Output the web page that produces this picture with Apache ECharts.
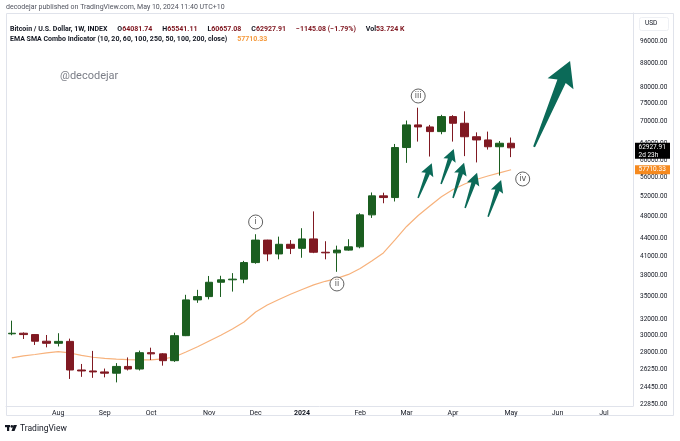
<!DOCTYPE html>
<html><head><meta charset="utf-8">
<script src="https://cdn.jsdelivr.net/npm/echarts@6/dist/echarts.min.js"></script>
<style>html,body{margin:0;padding:0;background:#fff}#c{width:680px;height:441px}</style>
</head><body><div id="c"></div>
<script>
const FONT = 'Roboto, "Noto Sans", sans-serif';
const categories = ['2023-07-10','2023-07-17','2023-07-24','2023-07-31','2023-08-07','2023-08-14','2023-08-21','2023-08-28','2023-09-04','2023-09-11','2023-09-18','2023-09-25','2023-10-02','2023-10-09','2023-10-16','2023-10-23','2023-10-30','2023-11-06','2023-11-13','2023-11-20','2023-11-27','2023-12-04','2023-12-11','2023-12-18','2023-12-25','2024-01-01','2024-01-08','2024-01-15','2024-01-22','2024-01-29','2024-02-05','2024-02-12','2024-02-19','2024-02-26','2024-03-04','2024-03-11','2024-03-18','2024-03-25','2024-04-01','2024-04-08','2024-04-15','2024-04-22','2024-04-29','2024-05-06','2024-05-13','2024-05-20','2024-05-27','2024-06-03','2024-06-10','2024-06-17','2024-06-24','2024-07-01','2024-07-08','2024-07-15'];
const opens  = [30170,30240,30080,29300,29060,29280,26150,26050,25950,25820,26520,26250,28000,27870,27130,29950,34500,34950,36990,37350,37450,39980,43700,41370,42980,42300,43900,41650,41550,42000,42550,48280,52050,51700,63000,68900,68350,67100,71200,69350,65750,64920,63200,64081.74];
const closes = [30240,30080,29300,29060,29280,26150,26050,25950,25820,26520,26250,28000,27870,27130,29950,34500,34950,36990,37350,37450,39980,43700,41370,42980,42300,43900,41650,41550,42000,42550,48280,52050,51700,63000,68900,68350,67100,71200,69350,65750,64920,63200,64080,62927.91];
const lows   = [30000,29560,28870,28600,28700,25240,25450,25350,25400,24900,26100,26100,27200,26600,27000,29900,34100,34570,34900,35650,36850,39800,40200,40500,41350,40750,41500,40500,38550,41900,42300,47700,50550,50900,59300,64500,60800,66400,64500,60900,59400,62500,56400,60657.08];
const highs  = [31780,30340,30120,30030,30240,29600,26780,28200,26300,26870,27480,28230,28560,27950,30300,35200,35900,37920,37950,38350,40250,44720,43750,44300,43700,45800,48950,43500,42750,43850,48600,52750,52700,63900,70100,73750,68900,71700,71600,72700,66900,67100,64650,65541.11];
const ema    = [27430,27640,27800,27970,28110,27970,27700,27500,27370,27290,27240,27210,27210,27320,27530,28080,28670,29330,30000,30760,31620,32890,33810,34560,35270,35950,36600,37130,37570,38150,39060,40240,41530,43720,46120,48160,50000,51880,53380,54550,55530,56300,56980,57710.33];
const priceTicks = [96000,88000,80000,75000,70000,64000,60000,56000,52000,48000,44000,41000,38000,35000,32000,30000,28000,26250,24450,22850];
const monthTickIdx = [4,8,12,17,21,25,30,34,38,43,47,51];
const monthTickText = ['Aug','Sep','Oct','Nov','Dec','2024','Feb','Mar','Apr','May','Jun','Jul'];
const waveText = ['i','ii','iii','iv'];
const waveIdx = [21,28,35,44];
const wavePrice = [46940,36740,77240,55640];
const arrowTailIdx = [44.98,34.99,36.97,38.0,39.04,41.02];
const arrowTailPrice = [63140,51610,54550,51610,49610,47930];
const arrowTipIdx = [48.08,36.17,38.06,38.95,40.07,42.14];
const arrowTipPrice = [88700,59200,62640,59330,57040,55420];
const lastChange = -1145.08, lastChangePct = -1.79, lastVol = '53.724 K', barCountdown = '2d 23h';

const UP = '#1b5e20', DOWN = '#801922', EMA_C = '#f7b27c', ARROW = '#0b6a58';
const candleData = opens.map((o,i)=>[o, closes[i], lows[i], highs[i]]);
const last = opens.length - 1;

const chart = echarts.init(document.getElementById('c'), null, {renderer:'canvas'});
const rn = {fontSize:7, color:'#131722', fontFamily:FONT};
const rr = {fontSize:7, color:DOWN, fontFamily:FONT};
const fmt = v => v.toFixed(2);
chart.setOption({
  animation:false,
  backgroundColor:'#ffffff',
  title:[
    {left:6, top:4, padding:0, text:'decodejar published on TradingView.com, May 10, 2024 11:40 UTC+10',
     textStyle:{fontSize:7, color:'#50535e', fontWeight:'normal', fontFamily:FONT}},
    {left:10, top:20, padding:0,
     text:'{n|Bitcoin / U.S. Dollar, 1W, INDEX}  {n|O}{r|'+fmt(opens[last])+'}  {n|H}{r|'+fmt(highs[last])+'}  {n|L}{r|'+fmt(lows[last])+'}  {n|C}{r|'+fmt(closes[last])+'}  {r|\u2212'+Math.abs(lastChange).toFixed(2)+' (\u2212'+Math.abs(lastChangePct).toFixed(2)+'%)}  {n|Vol}{r|'+lastVol+'}',
     textStyle:{rich:{n:rn, r:rr}}},
    {left:10, top:30, padding:0,
     text:'{n|EMA SMA Combo Indicator (10, 20, 60, 100, 250, 50, 100, 200, close)}  {o|'+fmt(ema[last])+'}',
     textStyle:{rich:{n:rn, o:{fontSize:7, color:'#f59a3c', fontFamily:FONT}}}}
  ],
  grid:{left:6, right:47, top:13, bottom:35},
  xAxis:{type:'category', data:categories, boundaryGap:true,
    axisLine:{show:true, lineStyle:{color:'#e0e3eb'}}, axisTick:{show:false}, splitLine:{show:false},
    axisLabel:{interval:(i)=>monthTickIdx.indexOf(i)>=0, margin:4,
      formatter:(v,i)=>{const j=monthTickIdx.indexOf(i); return j<0?'':(monthTickText[j]==='2024'?'{b|2024}':monthTickText[j]);},
      fontSize:7, color:'#131722', fontFamily:FONT, rich:{b:{fontSize:7, fontWeight:'bold', color:'#131722', fontFamily:FONT}}}},
  yAxis:{type:'log', logBase:10, position:'right', min:22680, max:107230, scale:true,
    axisLine:{show:true, lineStyle:{color:'#e0e3eb'}}, axisTick:{show:false}, splitLine:{show:false},
    axisLabel:{customValues:priceTicks, formatter:v=>Number(v).toFixed(2), fontSize:6.5, color:'#131722', fontFamily:FONT, margin:7}},
  series:[
    {type:'line', name:'EMA', data:ema, showSymbol:false, symbol:'none', z:1,
     lineStyle:{color:EMA_C, width:1.2}},
    {type:'candlestick', name:'BTC', data:candleData, barWidth:8, z:2,
     itemStyle:{color:UP, color0:DOWN, borderColor:UP, borderColor0:DOWN, borderWidth:1}},
    {type:'scatter', name:'waves', z:5, symbol:'circle', symbolSize:14,
     data:waveIdx.map((k,i)=>({value:[k, wavePrice[i]], name:waveText[i]})),
     itemStyle:{color:'#fff', borderColor:'#3a3a3a', borderWidth:1},
     label:{show:true, position:'inside', formatter:p=>p.name, color:'#222', fontSize:8, fontFamily:'"DejaVu Sans", sans-serif'}}
  ]
});

function xPix(k){
  const k0=Math.floor(k), k1=k0+1;
  const p0=chart.convertToPixel({xAxisIndex:0}, k0), p1=chart.convertToPixel({xAxisIndex:0}, k1);
  return p0+(k-k0)*(p1-p0);
}
function yPix(v){ return chart.convertToPixel({yAxisIndex:0}, v); }
function arrowPoly(tx,ty,hx,hy,tailW,shaftW,headLen,headW){
  const dx=hx-tx, dy=hy-ty, L=Math.hypot(dx,dy), ux=dx/L, uy=dy/L, nx=-uy, ny=ux;
  const bx=hx-ux*headLen, by=hy-uy*headLen;
  const wx=hx-ux*headLen*1.12, wy=hy-uy*headLen*1.12;
  return [
    [tx+nx*tailW/2, ty+ny*tailW/2],
    [bx+nx*shaftW/2, by+ny*shaftW/2],
    [wx+nx*headW/2, wy+ny*headW/2],
    [hx,hy],
    [wx-nx*headW/2, wy-ny*headW/2],
    [bx-nx*shaftW/2, by-ny*shaftW/2],
    [tx-nx*tailW/2, ty-ny*tailW/2]
  ];
}
const arrows = arrowTailIdx.map((k,i)=>{
  const big = i===0;
  const pts = arrowPoly(xPix(k), yPix(arrowTailPrice[i]), xPix(arrowTipIdx[i]), yPix(arrowTipPrice[i]),
    big?2:1.5, big?9:4.5, big?22:11, big?28:13);
  return {type:'polygon', shape:{points:pts}, style:{fill:ARROW}, z:10};
});
const gridRight = 680 - 47;
const yC = yPix(closes[last]), yE = yPix(ema[last]);
const badges = [
  {type:'rect', shape:{x:gridRight+2, y:yC-5, width:35, height:16}, style:{fill:'#000'}, z:20},
  {type:'text', x:gridRight+5.5, y:yC, style:{text:fmt(closes[last]), fontSize:6.5, fill:'#fff', fontFamily:FONT, verticalAlign:'middle'}, z:21},
  {type:'text', x:gridRight+5.5, y:yC+7.5, style:{text:barCountdown, fontSize:6.5, fill:'#fff', fontFamily:FONT, verticalAlign:'middle'}, z:21},
  {type:'rect', shape:{x:gridRight+2, y:yE-4.5, width:35, height:9}, style:{fill:'#f68a1f'}, z:20},
  {type:'text', x:gridRight+5.5, y:yE, style:{text:fmt(ema[last]), fontSize:6.5, fill:'#fff', fontFamily:FONT, verticalAlign:'middle'}, z:21}
];
chart.setOption({graphic:[
  {type:'rect', shape:{x:6.5, y:13.5, width:667, height:402}, style:{fill:'none', stroke:'#e0e3eb', lineWidth:1}, z:0, silent:true},
  {type:'rect', shape:{x:639.5, y:17.5, width:29, height:13, r:2}, style:{fill:'#fff', stroke:'#eef0f4', lineWidth:1}, z:1},
  {type:'text', x:645, y:20, style:{text:'USD', fontSize:6.5, fill:'#131722', fontFamily:FONT}, z:2},
  {type:'text', x:60, y:71, style:{text:'@decodejar', fontSize:11, fill:'#7b7e87', fontFamily:FONT}, z:1},
  {type:'group', x:5, y:425, children:[
    {type:'rect', shape:{x:0, y:0, width:5, height:2.2}, style:{fill:'#131722'}},
    {type:'rect', shape:{x:2, y:0, width:2.2, height:6}, style:{fill:'#131722'}},
    {type:'circle', shape:{cx:6.8, cy:1.4, r:1.3}, style:{fill:'#131722'}},
    {type:'polygon', shape:{points:[[8.5,0],[12,0],[9.5,6],[6.5,6]]}, style:{fill:'#131722'}},
    {type:'text', x:15, y:-1, style:{text:'TradingView', fontSize:8.5, fill:'#131722', fontFamily:FONT}}
  ]}
].concat(arrows).concat(badges)});
</script></body></html>
